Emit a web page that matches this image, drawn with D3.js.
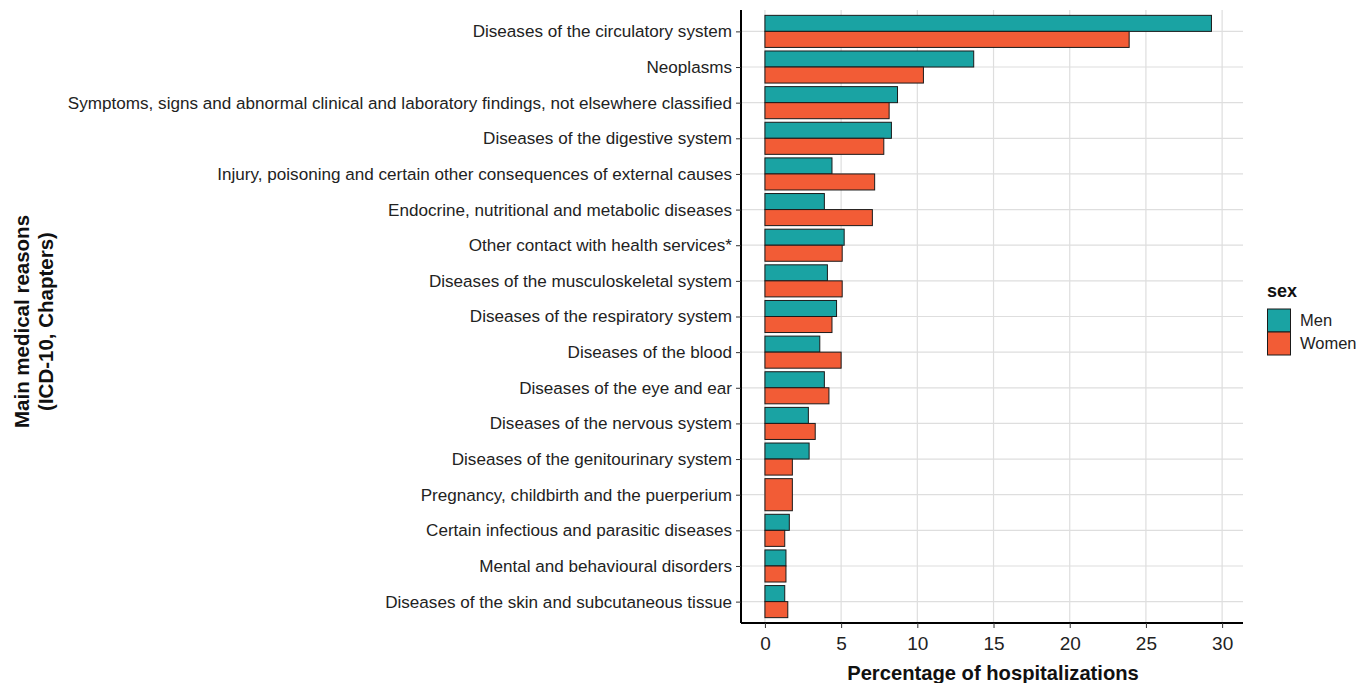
<!DOCTYPE html>
<html>
<head>
<meta charset="utf-8">
<script src="https://cdn.jsdelivr.net/npm/d3@7"></script>
<style>
  body { margin: 0; background: #fff; }
  text { font-family: "Liberation Sans", Arial, sans-serif; }
</style>
</head>
<body>
<svg id="chart" width="1371" height="683"></svg>
<script>
// categories top to bottom
const categories = [
  "Diseases of the circulatory system",
  "Neoplasms",
  "Symptoms, signs and abnormal clinical and laboratory findings, not elsewhere classified",
  "Diseases of the digestive system",
  "Injury, poisoning and certain other consequences of external causes",
  "Endocrine, nutritional and metabolic diseases",
  "Other contact with health services*",
  "Diseases of the musculoskeletal system",
  "Diseases of the respiratory system",
  "Diseases of the blood",
  "Diseases of the eye and ear",
  "Diseases of the nervous system",
  "Diseases of the genitourinary system",
  "Pregnancy, childbirth and the puerperium",
  "Certain infectious and parasitic diseases",
  "Mental and behavioural disorders",
  "Diseases of the skin and subcutaneous tissue"
];
const men   = [29.3, 13.7, 8.7, 8.3, 4.4, 3.9, 5.2, 4.1, 4.7, 3.6, 3.9, 2.85, 2.9, null, 1.6, 1.38, 1.3];
const women = [23.9, 10.4, 8.15, 7.8, 7.2, 7.05, 5.07, 5.07, 4.4, 5.0, 4.2, 3.3, 1.8, 1.8, 1.3, 1.38, 1.5];
const sexes = ["Men", "Women"];
const xTicks = [0, 5, 10, 15, 20, 25, 30];

const colors = { Men: "#1aa3a3", Women: "#f25c36" };

const svg = d3.select("#chart");
const panel = { left: 741, right: 1243, top: 10, bottom: 623 };

const x = d3.scaleLinear().domain([-1.57, 31.37]).range([panel.left, panel.right]);
const y = d3.scalePoint().domain(categories).range([panel.top, panel.bottom]).padding(0.6);
const step = y.step();

// grid
const grid = svg.append("g");
grid.selectAll("line.v").data(xTicks).join("line")
  .attr("x1", d => x(d)).attr("x2", d => x(d))
  .attr("y1", panel.top).attr("y2", panel.bottom)
  .attr("stroke", "#dedede").attr("stroke-width", 1.2);
grid.selectAll("line.h").data(categories).join("line")
  .attr("x1", panel.left).attr("x2", panel.right)
  .attr("y1", d => y(d)).attr("y2", d => y(d))
  .attr("stroke", "#dedede").attr("stroke-width", 1.2);

// bars (dodged, a lone bar takes the full width)
const rows = categories.map((c, i) => {
  const present = sexes.filter(s => (s === "Men" ? men[i] : women[i]) != null);
  return present.map(s => ({ cat: c, sex: s, value: s === "Men" ? men[i] : women[i], groups: present }));
}).flat();

svg.append("g").selectAll("rect").data(rows).join("rect")
  .attr("x", x(0))
  .attr("width", d => x(d.value) - x(0))
  .attr("y", d => {
    const sub = d3.scaleBand().domain(d.groups).range([-0.45 * step, 0.45 * step]);
    return y(d.cat) + sub(d.sex);
  })
  .attr("height", d => 0.9 * step / d.groups.length)
  .attr("fill", d => colors[d.sex])
  .attr("stroke", "#1a1a1a").attr("stroke-width", 1);

// axes
const xAxis = svg.append("g").attr("transform", `translate(0,${panel.bottom})`)
  .call(d3.axisBottom(x).tickValues(xTicks).tickSize(5).tickPadding(9));
xAxis.select(".domain").attr("d", `M${panel.left},0H${panel.right}`).attr("stroke", "#000").attr("stroke-width", 2);
xAxis.selectAll(".tick line").attr("stroke", "#333");
xAxis.selectAll("text").attr("font-size", 19).attr("fill", "#222")
  .style("font-family", "Liberation Sans, Arial, sans-serif");

const yAxis = svg.append("g").attr("transform", `translate(${panel.left},0)`)
  .call(d3.axisLeft(y).tickSize(5).tickPadding(4));
yAxis.select(".domain").attr("d", `M0,${panel.top}V${panel.bottom}`).attr("stroke", "#000").attr("stroke-width", 2);
yAxis.selectAll(".tick line").attr("stroke", "#333");
yAxis.selectAll("text").attr("font-size", 17.1).attr("fill", "#222")
  .style("font-family", "Liberation Sans, Arial, sans-serif");

// axis titles
svg.append("text")
  .attr("x", 993).attr("y", 680)
  .attr("text-anchor", "middle").attr("font-weight", "bold").attr("font-size", 20.2)
  .attr("fill", "#111")
  .text("Percentage of hospitalizations");

const yt = svg.append("text")
  .attr("transform", `translate(29,${(panel.top + panel.bottom) / 2 + 5}) rotate(-90)`)
  .attr("text-anchor", "middle").attr("font-weight", "bold").attr("font-size", 20.5)
  .attr("fill", "#111");
yt.append("tspan").attr("x", 0).attr("dy", 0).text("Main medical reasons");
yt.append("tspan").attr("x", 0).attr("dy", 24).text("(ICD-10, Chapters)");

// legend
const lg = svg.append("g").attr("transform", "translate(1267,0)");
lg.append("text").attr("x", 0).attr("y", 297)
  .attr("font-weight", "bold").attr("font-size", 18).attr("fill", "#111").text("sex");
lg.selectAll("rect").data(sexes).join("rect")
  .attr("x", 0.5).attr("y", (d, i) => 309 + i * 23)
  .attr("width", 23).attr("height", 23)
  .attr("fill", d => colors[d]).attr("stroke", "#1a1a1a").attr("stroke-width", 1);
lg.selectAll("text.lab").data(sexes).join("text").attr("class", "lab")
  .attr("x", 33).attr("y", (d, i) => 320.5 + i * 23)
  .attr("dy", "0.35em").attr("font-size", 16.5).attr("fill", "#222").text(d => d);
</script>
</body>
</html>
